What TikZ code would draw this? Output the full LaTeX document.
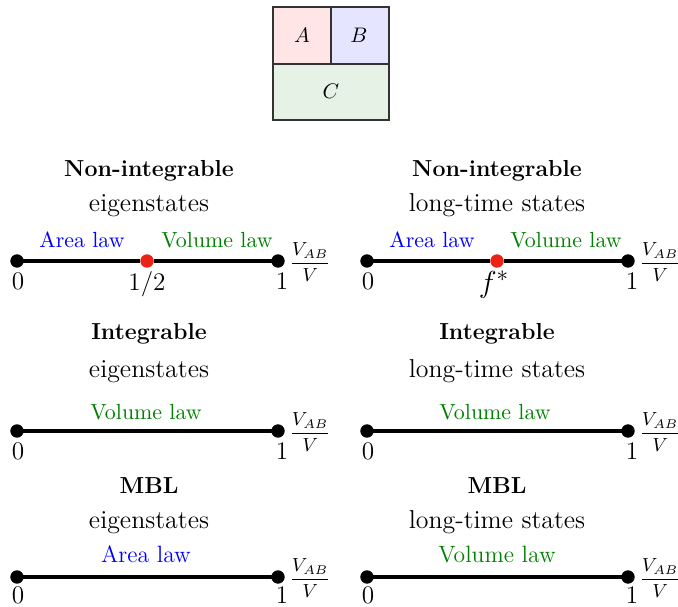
\documentclass[tikz,border=0pt]{standalone}
\usepackage{amsmath}
\definecolor{lawgreen}{RGB}{0,128,0}
\definecolor{dotred}{RGB}{235,35,20}
\begin{document}
\begin{tikzpicture}[x=0.475pt,y=-0.475pt,
  axis/.style={line width=1.8pt},
  enddot/.style={circle,fill=black,inner sep=0pt,minimum size=6.2pt},
  reddot/.style={circle,fill=dotred,inner sep=0pt,minimum size=6.2pt},
  ttl/.style={font=\bfseries\fontsize{11}{13}\selectfont,anchor=base},
  sub/.style={font=\fontsize{12.3}{14}\selectfont,anchor=base},
  tick/.style={anchor=base,font=\fontsize{11.8}{14}\selectfont},
  lbl/.style={anchor=base,font=\fontsize{10.4}{12}\selectfont},
  biglbl/.style={anchor=base,font=\fontsize{11.2}{13}\selectfont},
  area/.style={text=blue},
  vol/.style={text=lawgreen},
  frac/.style={anchor=west,inner sep=0pt,font=\fontsize{9.2}{11}\selectfont},
  cell/.style={draw=black!80,line width=0.5pt}
]
\useasboundingbox (0,0) rectangle (678,606);
% top box
\filldraw[cell,fill=red!10] (273,7) rectangle (331,64);
\filldraw[cell,fill=blue!10] (331,7) rectangle (389,64);
\filldraw[cell,fill=lawgreen!10] (273,64) rectangle (389,120);
\node (A) at (302,35) {$A$};
\node (B) at (359,35) {$B$};
\node (C) at (331,91) {$C$};

% ---------- Row 1 ----------
\node[ttl] (t1l) at (149,176) {Non-integrable};
\node[sub] (s1l) at (149,211) {eigenstates};
\node[ttl] (t1r) at (497,176) {Non-integrable};
\node[sub] (s1r) at (497,211) {long-time states};

\node[enddot] (a0) at (17,261) {};
\node[reddot] (am) at (147,261) {};
\node[enddot] (a1) at (278,261) {};
\draw[axis] (a0.center) -- (am) -- (a1.center);
\node[enddot] at (a0) {};
\node[enddot] at (a1) {};
\node[reddot] at (am) {};
\node[lbl,area] (al1) at (82,247) {Area law};
\node[lbl,vol] (vl1) at (217,247) {Volume law};
\node[tick] (z1) at (18,289) {$0$};
\node[tick] (h1) at (147,290) {$1/2$};
\node[tick] (o1) at (282,289) {$1$};
\node[frac] (f1) at (289,262) {$\dfrac{V_{AB}}{V}$};

\node[enddot] (b0) at (367,261) {};
\node[reddot] (bm) at (497,261) {};
\node[enddot] (b1) at (628,261) {};
\draw[axis] (b0.center) -- (bm) -- (b1.center);
\node[enddot] at (b0) {};
\node[enddot] at (b1) {};
\node[reddot] at (bm) {};
\node[lbl,area] (al2) at (432,247) {Area law};
\node[lbl,vol] (vl2) at (566,247) {Volume law};
\node[tick] (z2) at (368,289) {$0$};
\node[tick,font=\fontsize{15}{17}\selectfont] (fs) at (494,292) {$f^{*}$};
\node[tick] (o2) at (632,289) {$1$};
\node[frac] (f2) at (639,262) {$\dfrac{V_{AB}}{V}$};

% ---------- Row 2 ----------
\node[ttl] (t2l) at (149,339) {Integrable};
\node[sub] (s2l) at (149,377) {eigenstates};
\node[ttl] (t2r) at (497,339) {Integrable};
\node[sub] (s2r) at (497,377) {long-time states};

\node[enddot] (c0) at (17,431) {};
\node[enddot] (c1) at (278,431) {};
\draw[axis] (c0.center) -- (c1.center);
\node[enddot] at (c0) {};
\node[enddot] at (c1) {};
\node[lbl,vol] (vl3) at (146,419) {Volume law};
\node[tick] (z3) at (18,459) {$0$};
\node[tick] (o3) at (282,459) {$1$};
\node[frac] (f3) at (289,432) {$\dfrac{V_{AB}}{V}$};

\node[enddot] (d0) at (367,431) {};
\node[enddot] (d1) at (628,431) {};
\draw[axis] (d0.center) -- (d1.center);
\node[enddot] at (d0) {};
\node[enddot] at (d1) {};
\node[lbl,vol] (vl4) at (495,419) {Volume law};
\node[tick] (z4) at (368,459) {$0$};
\node[tick] (o4) at (632,459) {$1$};
\node[frac] (f4) at (639,432) {$\dfrac{V_{AB}}{V}$};

% ---------- Row 3 ----------
\node[ttl] (t3l) at (149,493) {MBL};
\node[sub] (s3l) at (149,528) {eigenstates};
\node[ttl] (t3r) at (497,493) {MBL};
\node[sub] (s3r) at (497,528) {long-time states};

\node[enddot] (e0) at (17,577) {};
\node[enddot] (e1) at (278,577) {};
\draw[axis] (e0.center) -- (e1.center);
\node[enddot] at (e0) {};
\node[enddot] at (e1) {};
\node[biglbl,area] (al5) at (146,562) {Area law};
\node[tick] (z5) at (18,603) {$0$};
\node[tick] (o5) at (282,603) {$1$};
\node[frac] (f5) at (289,578) {$\dfrac{V_{AB}}{V}$};

\node[enddot] (g0) at (367,577) {};
\node[enddot] (g1) at (628,577) {};
\draw[axis] (g0.center) -- (g1.center);
\node[enddot] at (g0) {};
\node[enddot] at (g1) {};
\node[biglbl,vol] (vl6) at (497,562) {Volume law};
\node[tick] (z6) at (368,603) {$0$};
\node[tick] (o6) at (632,603) {$1$};
\node[frac] (f6) at (639,578) {$\dfrac{V_{AB}}{V}$};
\end{tikzpicture}
\end{document}
